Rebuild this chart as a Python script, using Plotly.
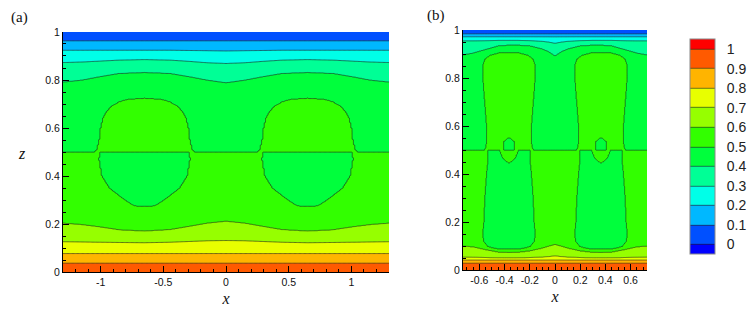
import numpy as np
import plotly.graph_objects as go

# ---------------- colour levels / legend ----------------
level_start, level_end, level_step = 0.0, 1.0, 0.1
band_colors = ["#0000ff", "#0050ff", "#00b8ff", "#00ffe8", "#00ff96", "#00ff3c",
               "#32ff00", "#96ff00", "#e8ff00", "#ffb400", "#ff5a00", "#ff0000"]
cbar_ticks = [0, 0.1, 0.2, 0.3, 0.4, 0.5, 0.6, 0.7, 0.8, 0.9, 1.0]
cbar_text = ["0", "0.1", "0.2", "0.3", "0.4", "0.5", "0.6", "0.7", "0.8", "0.9", "1"]

# ---------------- panel (a): read contour heights ----------------
a_half_width = 1.3
a_centers = [-0.65, 0.65]
a_xk = [0.0, 0.15, 0.3, 0.45, 0.65, 0.85, 1.0, 1.15, 1.3]
a_z09 = [0.038, 0.038, 0.038, 0.038, 0.038, 0.038, 0.038, 0.038, 0.038]
a_z08 = [0.078, 0.078, 0.078, 0.078, 0.078, 0.078, 0.078, 0.078, 0.078]
a_z07 = [0.132, 0.131, 0.128, 0.125, 0.123, 0.124, 0.125, 0.126, 0.127]
a_z06 = [0.212, 0.204, 0.19, 0.177, 0.171, 0.176, 0.188, 0.198, 0.204]
a_z04 = [0.789, 0.80, 0.815, 0.828, 0.832, 0.828, 0.815, 0.80, 0.792]
a_z03 = [0.869, 0.872, 0.878, 0.883, 0.885, 0.883, 0.879, 0.875, 0.873]
a_z02 = [0.921, 0.922, 0.923, 0.924, 0.924, 0.924, 0.924, 0.924, 0.924]
a_z01 = [0.963, 0.963, 0.963, 0.963, 0.963, 0.963, 0.963, 0.963, 0.963]
a_bowl_z = [0.274, 0.276, 0.30, 0.35, 0.40, 0.47, 0.499]
a_bowl_hw = [0.0, 0.08, 0.155, 0.28, 0.339, 0.362, 0.355]
a_cap_z = [0.501, 0.505, 0.512, 0.56, 0.60, 0.64, 0.67, 0.693, 0.71, 0.72, 0.7245]
a_cap_hw = [0.40, 0.388, 0.378, 0.357, 0.350, 0.333, 0.303, 0.258, 0.20, 0.13, 0.0]

# ---------------- panel (b): read contour heights ----------------
b_half_width = 0.73
b_centers = [-0.365, 0.365]
b_xk = [0.0, 0.05, 0.1, 0.2, 0.3, 0.365, 0.45, 0.55, 0.65, 0.73]
b_z09 = [0.03, 0.03, 0.03, 0.03, 0.03, 0.03, 0.03, 0.03, 0.03, 0.03]
b_z08 = [0.043, 0.043, 0.043, 0.043, 0.043, 0.043, 0.043, 0.043, 0.043, 0.043]
b_z07 = [0.060, 0.057, 0.055, 0.053, 0.052, 0.052, 0.052, 0.053, 0.054, 0.055]
b_z06 = [0.107, 0.100, 0.092, 0.080, 0.074, 0.073, 0.075, 0.085, 0.097, 0.100]
b_z04 = [0.893, 0.910, 0.922, 0.935, 0.938, 0.938, 0.935, 0.920, 0.905, 0.897]
b_z03 = [0.945, 0.950, 0.953, 0.956, 0.957, 0.957, 0.957, 0.956, 0.955, 0.955]
b_z02 = [0.972, 0.972, 0.972, 0.972, 0.972, 0.972, 0.972, 0.972, 0.972, 0.972]
b_z01 = [0.984, 0.984, 0.984, 0.984, 0.984, 0.984, 0.984, 0.984, 0.984, 0.984]
b_low_z = [0.089, 0.092, 0.10, 0.12, 0.15, 0.20, 0.30, 0.40, 0.45, 0.499]
b_low_hw = [0.08, 0.12, 0.17, 0.20, 0.21, 0.20, 0.192, 0.178, 0.168, 0.165]
b_up_z = [0.501, 0.51, 0.53, 0.60, 0.70, 0.80, 0.85, 0.88, 0.895, 0.905]
b_up_hw = [0.195, 0.185, 0.178, 0.178, 0.193, 0.208, 0.21, 0.19, 0.15, 0.08]
b_pocket_up_z = [0.501, 0.535, 0.553]
b_pocket_up_hw = [0.044, 0.044, 0.0]
b_pocket_lo_z = [0.447, 0.455, 0.47, 0.499]
b_pocket_lo_hw = [0.0, 0.027, 0.053, 0.075]

T_bottom, T_top = 0.98, 0.02
T_mid_below, T_mid_above = 0.52, 0.48
T_low_inside, T_up_inside = 0.45, 0.55


def region(Z, D, zs, hws):
    hw = np.interp(Z, zs, hws)
    return (Z >= zs[0]) & (Z <= zs[-1]) & (D < hw)


def build_field(xg, zg, xk, lows, ups, centers, lo, up, p_up=None, p_lo=None):
    T = np.zeros((len(zg), len(xg)))
    for j, xv in enumerate(xg):
        zl = [np.interp(abs(xv), xk, arr) for arr in lows]
        zu = [np.interp(abs(xv), xk, arr) for arr in ups]
        below = np.interp(zg, [0.0] + zl + [0.5], [T_bottom, 0.9, 0.8, 0.7, 0.6, T_mid_below])
        above = np.interp(zg, [0.5] + zu + [1.0], [T_mid_above, 0.4, 0.3, 0.2, 0.1, T_top])
        T[:, j] = np.where(zg < 0.5, below, above)
    X, Z = np.meshgrid(xg, zg)
    D = np.min(np.abs(X[None, :, :] - np.array(centers)[:, None, None]), axis=0)
    T[region(Z, D, *lo)] = T_low_inside
    T[region(Z, D, *up)] = T_up_inside
    if p_lo is not None:
        T[region(Z, D, *p_lo)] = T_up_inside
    if p_up is not None:
        T[region(Z, D, *p_up)] = T_low_inside
    return np.round(T, 4)


zg = np.linspace(0.0, 1.0, 400)
xa = np.linspace(-a_half_width, a_half_width, 261)
xb = np.linspace(-b_half_width, b_half_width, 293)

Ta = build_field(xa, zg, a_xk, [a_z09, a_z08, a_z07, a_z06], [a_z04, a_z03, a_z02, a_z01],
                 a_centers, (a_bowl_z, a_bowl_hw), (a_cap_z, a_cap_hw))
Tb = build_field(xb, zg, b_xk, [b_z09, b_z08, b_z07, b_z06], [b_z04, b_z03, b_z02, b_z01],
                 b_centers, (b_low_z, b_low_hw), (b_up_z, b_up_hw),
                 p_up=(b_pocket_up_z, b_pocket_up_hw), p_lo=(b_pocket_lo_z, b_pocket_lo_hw))

n = len(band_colors)
colorscale = [[i / (n - 1), c] for i, c in enumerate(band_colors)]
contours = dict(start=level_start, end=level_end, size=level_step, coloring="fill", showlines=True)
line = dict(color="#1e1e1e", width=0.6)

W, H = 749, 311
fig = go.Figure()
fig.add_trace(go.Contour(x=xa, y=zg, z=Ta, autocontour=False, contours=contours, line=line,
                         colorscale=colorscale, showscale=False, xaxis="x", yaxis="y",
                         hoverinfo="skip"))
fig.add_trace(go.Contour(x=xb, y=zg, z=Tb, autocontour=False, contours=contours, line=line,
                         colorscale=colorscale, xaxis="x2", yaxis="y2", hoverinfo="skip",
                         colorbar=dict(x=690 / W, xanchor="left", xpad=0, ypad=0,
                                       y=1 - 146.5 / H, yanchor="middle",
                                       len=215, lenmode="pixels", thickness=25,
                                       tickvals=cbar_ticks, ticktext=cbar_text,
                                       ticks="outside", ticklen=9, tickcolor="rgba(0,0,0,0)",
                                       tickfont=dict(family="Liberation Sans", size=14, color="#222"),
                                       outlinewidth=1, outlinecolor="#888")))

tickfont = dict(family="Liberation Sans", size=10.5, color="#111")
titlefont = dict(family="Liberation Serif", size=16, color="#111")


def xaxis(domain, rng, vals, text, minor):
    return dict(domain=domain, range=rng, tickmode="array", tickvals=vals, ticktext=text,
                ticks="inside", ticklen=6, tickwidth=1, tickcolor="black",
                showline=True, linecolor="black", linewidth=1, mirror=False,
                showgrid=False, zeroline=False, tickfont=tickfont,
                minor=dict(tickmode="linear", tick0=0, dtick=minor, ticks="inside",
                           ticklen=3, tickcolor="black", showgrid=False),
                title=dict(text="<i>x</i>", font=titlefont, standoff=5))


def yaxis(domain, anchor):
    return dict(domain=domain, range=[0, 1], anchor=anchor, tickmode="array",
                tickvals=[0, 0.2, 0.4, 0.6, 0.8, 1.0], ticktext=["0", "0.2", "0.4", "0.6", "0.8", "1"],
                ticks="inside", ticklen=6, tickwidth=1, tickcolor="black",
                showline=True, linecolor="black", linewidth=1, mirror=False,
                showgrid=False, zeroline=False, tickfont=tickfont,
                minor=dict(tickmode="linear", tick0=0, dtick=0.05, ticks="inside",
                           ticklen=3, tickcolor="black", showgrid=False))


fig.update_layout(
    width=W, height=H, autosize=False, margin=dict(l=0, r=0, t=0, b=0),
    paper_bgcolor="white", plot_bgcolor="white", showlegend=False,
    xaxis=dict(xaxis([63 / W, 389 / W], [-a_half_width, a_half_width],
                     [-1, -0.5, 0, 0.5, 1], ["-1", "-0.5", "0", "0.5", "1"], 0.1), anchor="y"),
    yaxis=yaxis([1 - 277 / H, 1 - 27 / H], "x"),
    xaxis2=dict(xaxis([463 / W, 647 / W], [-b_half_width, b_half_width],
                      [-0.6, -0.4, -0.2, 0, 0.2, 0.4, 0.6],
                      ["-0.6", "-0.4", "-0.2", "0", "0.2", "0.4", "0.6"], 0.05), anchor="y2"),
    yaxis2=yaxis([1 - 275 / H, 1 - 25 / H], "x2"),
    annotations=[
        dict(text="(a)", x=19.5 / W, y=1 - 12 / H, xref="paper", yref="paper", showarrow=False,
             xanchor="center", yanchor="middle",
             font=dict(family="Liberation Serif", size=15, color="#111")),
        dict(text="(b)", x=436 / W, y=1 - 10 / H, xref="paper", yref="paper", showarrow=False,
             xanchor="center", yanchor="middle",
             font=dict(family="Liberation Serif", size=15, color="#111")),
        dict(text="<i>z</i>", x=21.7 / W, y=1 - 153 / H, xref="paper", yref="paper", showarrow=False,
             xanchor="center", yanchor="middle", font=titlefont),
    ],
)

fig.write_html("out.html", config={"displayModeBar": False},
               post_script="document.body.style.margin='0';document.body.style.padding='0';")
